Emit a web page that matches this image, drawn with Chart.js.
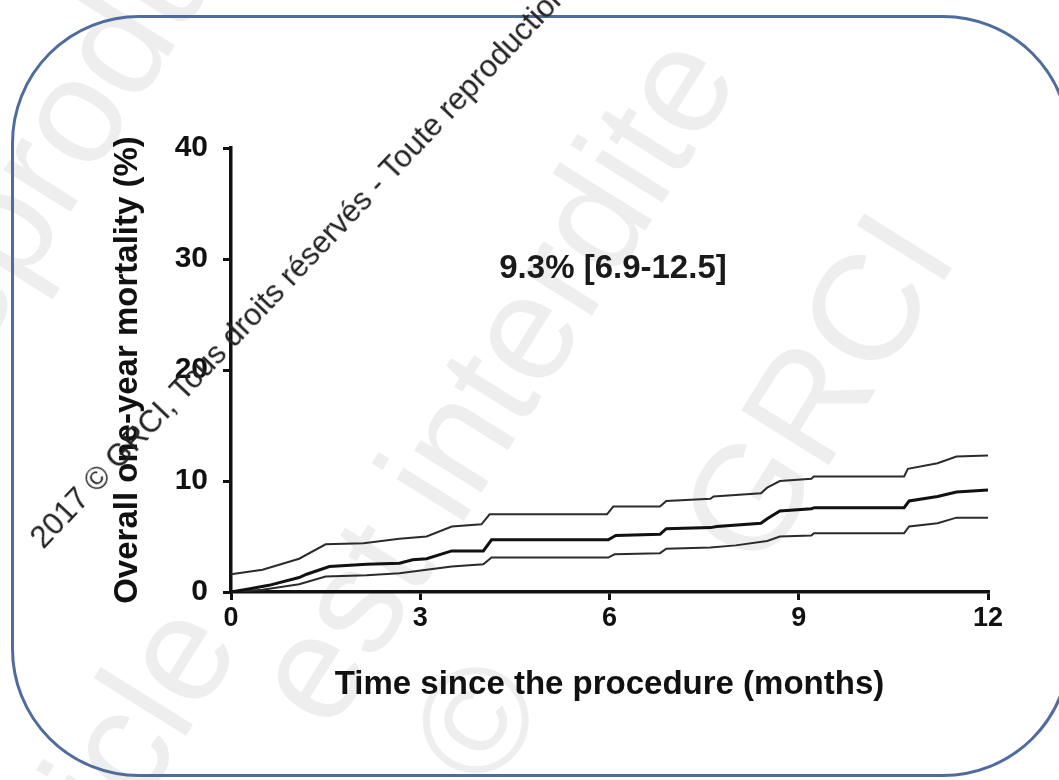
<!DOCTYPE html>
<html>
<head>
<meta charset="utf-8">
<script src="https://cdn.jsdelivr.net/npm/chart.js@4/dist/chart.umd.min.js"></script>
<style>
  html, body { margin: 0; padding: 0; background: #ffffff; }
  #wrap { position: relative; width: 1059px; height: 780px; overflow: hidden; background: #fff; }
  #frame { position: absolute; left: 11px; top: 15px; width: 1060px; height: 762px;
           border: 3px solid #4e6c9e; border-radius: 128px; box-sizing: border-box; }
  #faint { position: absolute; left: 0; top: 0; width: 1059px; height: 780px; pointer-events: none; }
  .fw { position: absolute; white-space: nowrap; font-family: "Liberation Sans", Arial, sans-serif;
        font-size: 150px; color: #eeeeee; transform-origin: 0 100%; }
  #c { position: absolute; left: 0; top: 0; }
  #annot { position: absolute; left: 613px; top: 267px; transform: translate(-50%, -50%);
           font-family: "Liberation Sans", Arial, sans-serif; font-weight: bold; font-size: 33px;
           color: #1a1a1a; white-space: nowrap; }
  #copy { position: absolute; left: 36px; top: 543px; height: 0; white-space: nowrap;
          font-family: "Liberation Sans", Arial, sans-serif; font-size: 31px; line-height: 0;
          color: #222; transform-origin: 0 0; transform: rotate(-46.5deg); }
</style>
</head>
<body>
<div id="wrap">
  <div id="faint">
    <div class="fw" style="left:-20px; top:250px; transform: rotate(-58deg);">reproduction</div>
    <div class="fw" style="left:360px; top:580px; transform: rotate(-58deg);">est interdite</div>
    <div class="fw" style="left:60px; top:830px; transform: rotate(-58deg);">article</div>
    <div class="fw" style="left:790px; top:420px; transform: rotate(-58deg);">GRCI</div>
    <div class="fw" style="left:520px; top:640px; transform: rotate(-58deg);">©</div>
  </div>
  <div id="frame"></div>
  <canvas id="c" width="1059" height="780"></canvas>
  <div id="annot">9.3% [6.9-12.5]</div>
  <div id="copy">2017 © GRCI, Tous droits réservés - Toute reproduction interdite</div>
</div>
<script>
// Kaplan-Meier estimate of overall one-year mortality (%), with 95% CI bounds
const timeMid =  [0, 0.3, 0.6, 1.08, 1.2, 1.56, 2.15, 2.67, 2.88, 3.1, 3.5, 4.0, 4.13, 5.98, 6.1, 6.8, 6.9, 7.6, 7.7, 8.4, 8.5, 8.7, 9.2, 9.25, 10.67, 10.75, 11.2, 11.5, 12];
const mortMid =  [0, 0.3, 0.6, 1.3, 1.6, 2.3, 2.5, 2.6, 2.9, 3.0, 3.7, 3.7, 4.7, 4.7, 5.1, 5.2, 5.7, 5.8, 5.9, 6.2, 6.6, 7.3, 7.5, 7.6, 7.6, 8.2, 8.6, 9.0, 9.2];

const timeUpper = [0, 0.5, 1.08, 1.5, 2.1, 2.67, 3.1, 3.5, 3.97, 4.1, 5.96, 6.06, 6.8, 6.9, 7.6, 7.65, 8.4, 8.5, 8.7, 9.2, 9.24, 10.67, 10.73, 11.2, 11.5, 12];
const mortUpper = [1.6, 2.0, 3.0, 4.3, 4.4, 4.8, 5.0, 5.9, 6.1, 7.0, 7.0, 7.7, 7.7, 8.2, 8.4, 8.6, 8.9, 9.4, 10.0, 10.2, 10.4, 10.4, 11.1, 11.6, 12.2, 12.3];

const timeLower = [0, 0.5, 1.08, 1.5, 2.15, 2.67, 3.1, 3.5, 4.0, 4.13, 5.98, 6.08, 6.8, 6.9, 7.6, 8.0, 8.5, 8.7, 9.2, 9.24, 10.67, 10.75, 11.2, 11.5, 12];
const mortLower = [0, 0.2, 0.7, 1.4, 1.5, 1.7, 2.0, 2.3, 2.5, 3.1, 3.1, 3.4, 3.5, 3.9, 4.0, 4.2, 4.6, 5.0, 5.1, 5.3, 5.3, 5.9, 6.2, 6.7, 6.7];

const xTicks = [0, 3, 6, 9, 12];
const yTicks = [0, 10, 20, 30, 40];
const xTitle = "Time since the procedure (months)";
const yTitle = "Overall one-year mortality (%)";

const pts = (xs, ys) => xs.map((x, i) => ({ x: x, y: ys[i] }));

const FONT = '"Liberation Sans", Arial, sans-serif';

new Chart(document.getElementById('c'), {
  type: 'line',
  data: {
    datasets: [
      { label: 'Upper 95% CI', data: pts(timeUpper, mortUpper), borderColor: '#2b2b2b', borderWidth: 2, pointRadius: 0, fill: false, tension: 0 },
      { label: 'Mortality', data: pts(timeMid, mortMid), borderColor: '#111111', borderWidth: 3, pointRadius: 0, fill: false, tension: 0 },
      { label: 'Lower 95% CI', data: pts(timeLower, mortLower), borderColor: '#2b2b2b', borderWidth: 2, pointRadius: 0, fill: false, tension: 0 }
    ]
  },
  options: {
    responsive: false,
    animation: false,
    devicePixelRatio: 1,
    layout: { padding: { left: 100, top: 148, right: 71, bottom: 68 } },
    plugins: { legend: { display: false }, tooltip: { enabled: false } },
    scales: {
      x: {
        type: 'linear', min: 0, max: 12,
        afterFit: (s) => { s.height = 120; },
        afterBuildTicks: (s) => { s.ticks = xTicks.map(v => ({ value: v })); },
        ticks: { color: '#111', padding: 2, font: { family: FONT, size: 27, weight: 'bold' } },
        grid: { drawOnChartArea: false, drawTicks: true, tickLength: 8, color: '#111', lineWidth: 3 },
        border: { display: true, color: '#111', width: 3.5 },
        title: { display: true, text: xTitle, color: '#111', padding: { top: 0, bottom: 7 },
                 font: { family: FONT, size: 33, weight: 'bold' } }
      },
      y: {
        type: 'linear', min: 0, max: 40,
        afterFit: (s) => { s.width = 131; },
        afterBuildTicks: (s) => { s.ticks = yTicks.map(v => ({ value: v })); },
        ticks: { color: '#111', padding: 15, font: { family: FONT, size: 30, weight: 'bold' } },
        grid: { drawOnChartArea: false, drawTicks: true, tickLength: 8, color: '#111', lineWidth: 3 },
        border: { display: true, color: '#111', width: 3.5 },
        title: { display: true, text: yTitle, color: '#111', padding: { top: 8, bottom: 0 },
                 font: { family: FONT, size: 33, weight: 'bold' } }
      }
    }
  }
});
</script>
</body>
</html>
